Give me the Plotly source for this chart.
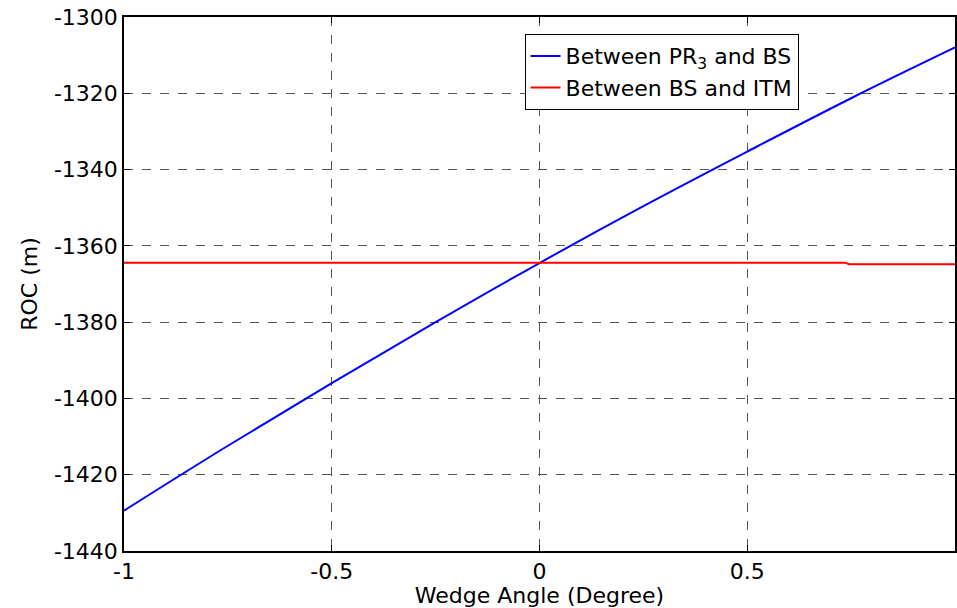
import plotly.graph_objects as go

# Wedge angle (degree) and ROC (m)
wedge_angle = [-1.0, -0.75, -0.5, -0.25, 0.0, 0.25, 0.5, 0.75, 1.0]
roc_pr3_bs = [-1429.4, -1412.4, -1396.0, -1380.0, -1364.5, -1349.6, -1335.3, -1321.3, -1308.0]

red_angle = [-1.0, 0.735, 0.745, 1.0]
roc_bs_itm = [-1364.4, -1364.4, -1364.8, -1364.8]

x_tickvals = [-1, -0.5, 0, 0.5]
x_ticktext = ["-1", "-0.5", "0", "0.5"]
y_tickvals = [-1440, -1420, -1400, -1380, -1360, -1340, -1320, -1300]
y_ticktext = ["-1440", "-1420", "-1400", "-1380", "-1360", "-1340", "-1320", "-1300"]

font_family = "DejaVu Sans, sans-serif"
fs = 22

fig = go.Figure()
fig.add_trace(go.Scatter(x=wedge_angle, y=roc_pr3_bs, mode="lines",
                         line=dict(color="#0000ff", width=2, shape="spline"),
                         name="Between PR<sub>3</sub> and BS"))
fig.add_trace(go.Scatter(x=red_angle, y=roc_bs_itm, mode="lines",
                         line=dict(color="#ff0000", width=2),
                         name="Between BS and ITM"))

axis_common = dict(showline=True, linecolor="black", linewidth=1.5, mirror="ticks",
                   ticks="inside", ticklen=6, tickcolor="black",
                   showgrid=True, gridcolor="#555555", griddash="dash", gridwidth=1,
                   zeroline=False, tickfont=dict(size=fs, color="black", family=font_family))

fig.update_xaxes(range=[-1, 1], tickvals=x_tickvals, ticktext=x_ticktext,
                 title=dict(text="Wedge Angle (Degree)", font=dict(size=fs, color="black", family=font_family), standoff=0),
                 **axis_common)
fig.update_yaxes(range=[-1440, -1300], tickvals=y_tickvals, ticktext=y_ticktext,
                 title=dict(text="ROC (m)", font=dict(size=fs, color="black", family=font_family), standoff=10),
                 **axis_common)

fig.update_layout(
    width=957, height=608,
    margin=dict(l=124, r=0, t=17, b=57),
    plot_bgcolor="white", paper_bgcolor="white",
    font=dict(family=font_family, size=fs, color="black"),
    legend=dict(x=0.482, y=0.968, xanchor="left", yanchor="top",
                bgcolor="white", bordercolor="black", borderwidth=1,
                font=dict(size=fs, color="black", family=font_family),
                tracegroupgap=0),
    showlegend=True,
)

fig.write_html("out.html")
